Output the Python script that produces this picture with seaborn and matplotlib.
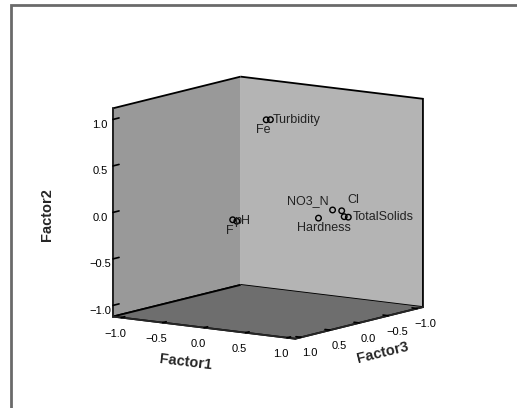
import matplotlib
matplotlib.use('Agg')
import matplotlib.pyplot as plt
import matplotlib.transforms as mtransforms
import seaborn as sns

# 因子負荷量
variables = ['Turbidity', 'Fe', 'F', 'pH', 'NO3_N', 'Cl', '', 'TotalSolids', 'Hardness']
factor1 = [0.03, 0.00, 0.17, 0.22, 0.78, 0.82, 0.85, 0.90, 0.75]
factor2 = [0.95, 0.95, 0.02, 0.01, 0.06, 0.04, -0.02, -0.02, 0.00]
factor3 = [0.00, 0.03, 0.85, 0.85, 0.00, -0.10, -0.10, -0.10, 0.20]
ticks = [-1.0, -0.5, 0.0, 0.5, 1.0]

# 標籤位置 (像素偏移, 對齊方式)
label_pos = {
    'Turbidity': (2, 0, 'left', 'center'),
    'Fe': (4, -4, 'right', 'top'),
    'F': (1, -5, 'right', 'top'),
    'pH': (-3, 0, 'left', 'center'),
    'NO3_N': (-4, 3, 'right', 'bottom'),
    'Cl': (6, 5, 'left', 'bottom'),
    'TotalSolids': (4, 0, 'left', 'center'),
    'Hardness': (5, -4, 'center', 'top'),
}

sns.set_theme(style='white')
plt.rcParams['font.family'] = ['Liberation Sans', 'DejaVu Sans']


def plot_loadings():
    fig = plt.figure(figsize=(5.17, 4.08), dpi=100)
    fig.patches.append(plt.Rectangle((11 / 517, -0.1), 1.2, 1.1 - 5 / 408,
                                     transform=fig.transFigure, fill=False,
                                     edgecolor='#6a6a6a', linewidth=2))

    ax = fig.add_axes([0.058, -0.002, 0.9, 0.96], projection='3d', proj_type='ortho')
    ax.view_init(elev=10, azim=35)
    ax.set_box_aspect((1, 1, 0.95), zoom=0.94)

    # x = Factor3, y = Factor1, z = Factor2
    ax.scatter(factor3, factor1, factor2, s=16, facecolors='none',
               edgecolors='black', linewidths=1, depthshade=False)

    for name, f1, f2, f3 in zip(variables, factor1, factor2, factor3):
        if not name:
            continue
        dx, dy, ha, va = label_pos[name]
        tr = mtransforms.offset_copy(ax.transData, fig=fig, x=dx, y=dy, units='dots')
        ax.text(f3, f1, f2, name, transform=tr, ha=ha, va=va,
                fontsize=9, color='#222222')

    ax.set_xlim(-1.1, 1.1)
    ax.set_ylim(-1.1, 1.1)
    ax.set_zlim(-1.12, 1.12)
    ax.set_xticks(ticks)
    ax.set_yticks(ticks)
    ax.set_zticks(ticks)
    ax.grid(False)

    pane_colors = {ax.xaxis: '#b4b4b4', ax.yaxis: '#999999', ax.zaxis: '#6e6e6e'}
    for axis, c in pane_colors.items():
        axis.pane.set_facecolor(c)
        axis.pane.set_edgecolor('black')
        axis.pane.set_alpha(1)
        axis.pane.set_linewidth(1.3)
        axis.line.set_linewidth(1.3)
        axis._axinfo['tick']['inward_factor'] = 0
        axis._axinfo['tick']['outward_factor'] = 0.35
        axis._axinfo['tick']['linewidth'] = {True: 1.2, False: 1.0}
        axis.set_tick_params(labelsize=8, colors='black', pad=-1)
    ax.zaxis._axinfo['tick']['outward_factor'] = 0.6
    ax.zaxis.set_tick_params(pad=-2)

    ax.set_xlabel('Factor3', fontsize=10.5, fontweight='bold', labelpad=-2)
    ax.set_ylabel('Factor1', fontsize=10.5, fontweight='bold', labelpad=0)
    ax.set_zlabel('Factor2', fontsize=10.5, fontweight='bold', labelpad=10)

    fig.savefig('out.png', dpi=100)


if __name__ == '__main__':
    plot_loadings()
